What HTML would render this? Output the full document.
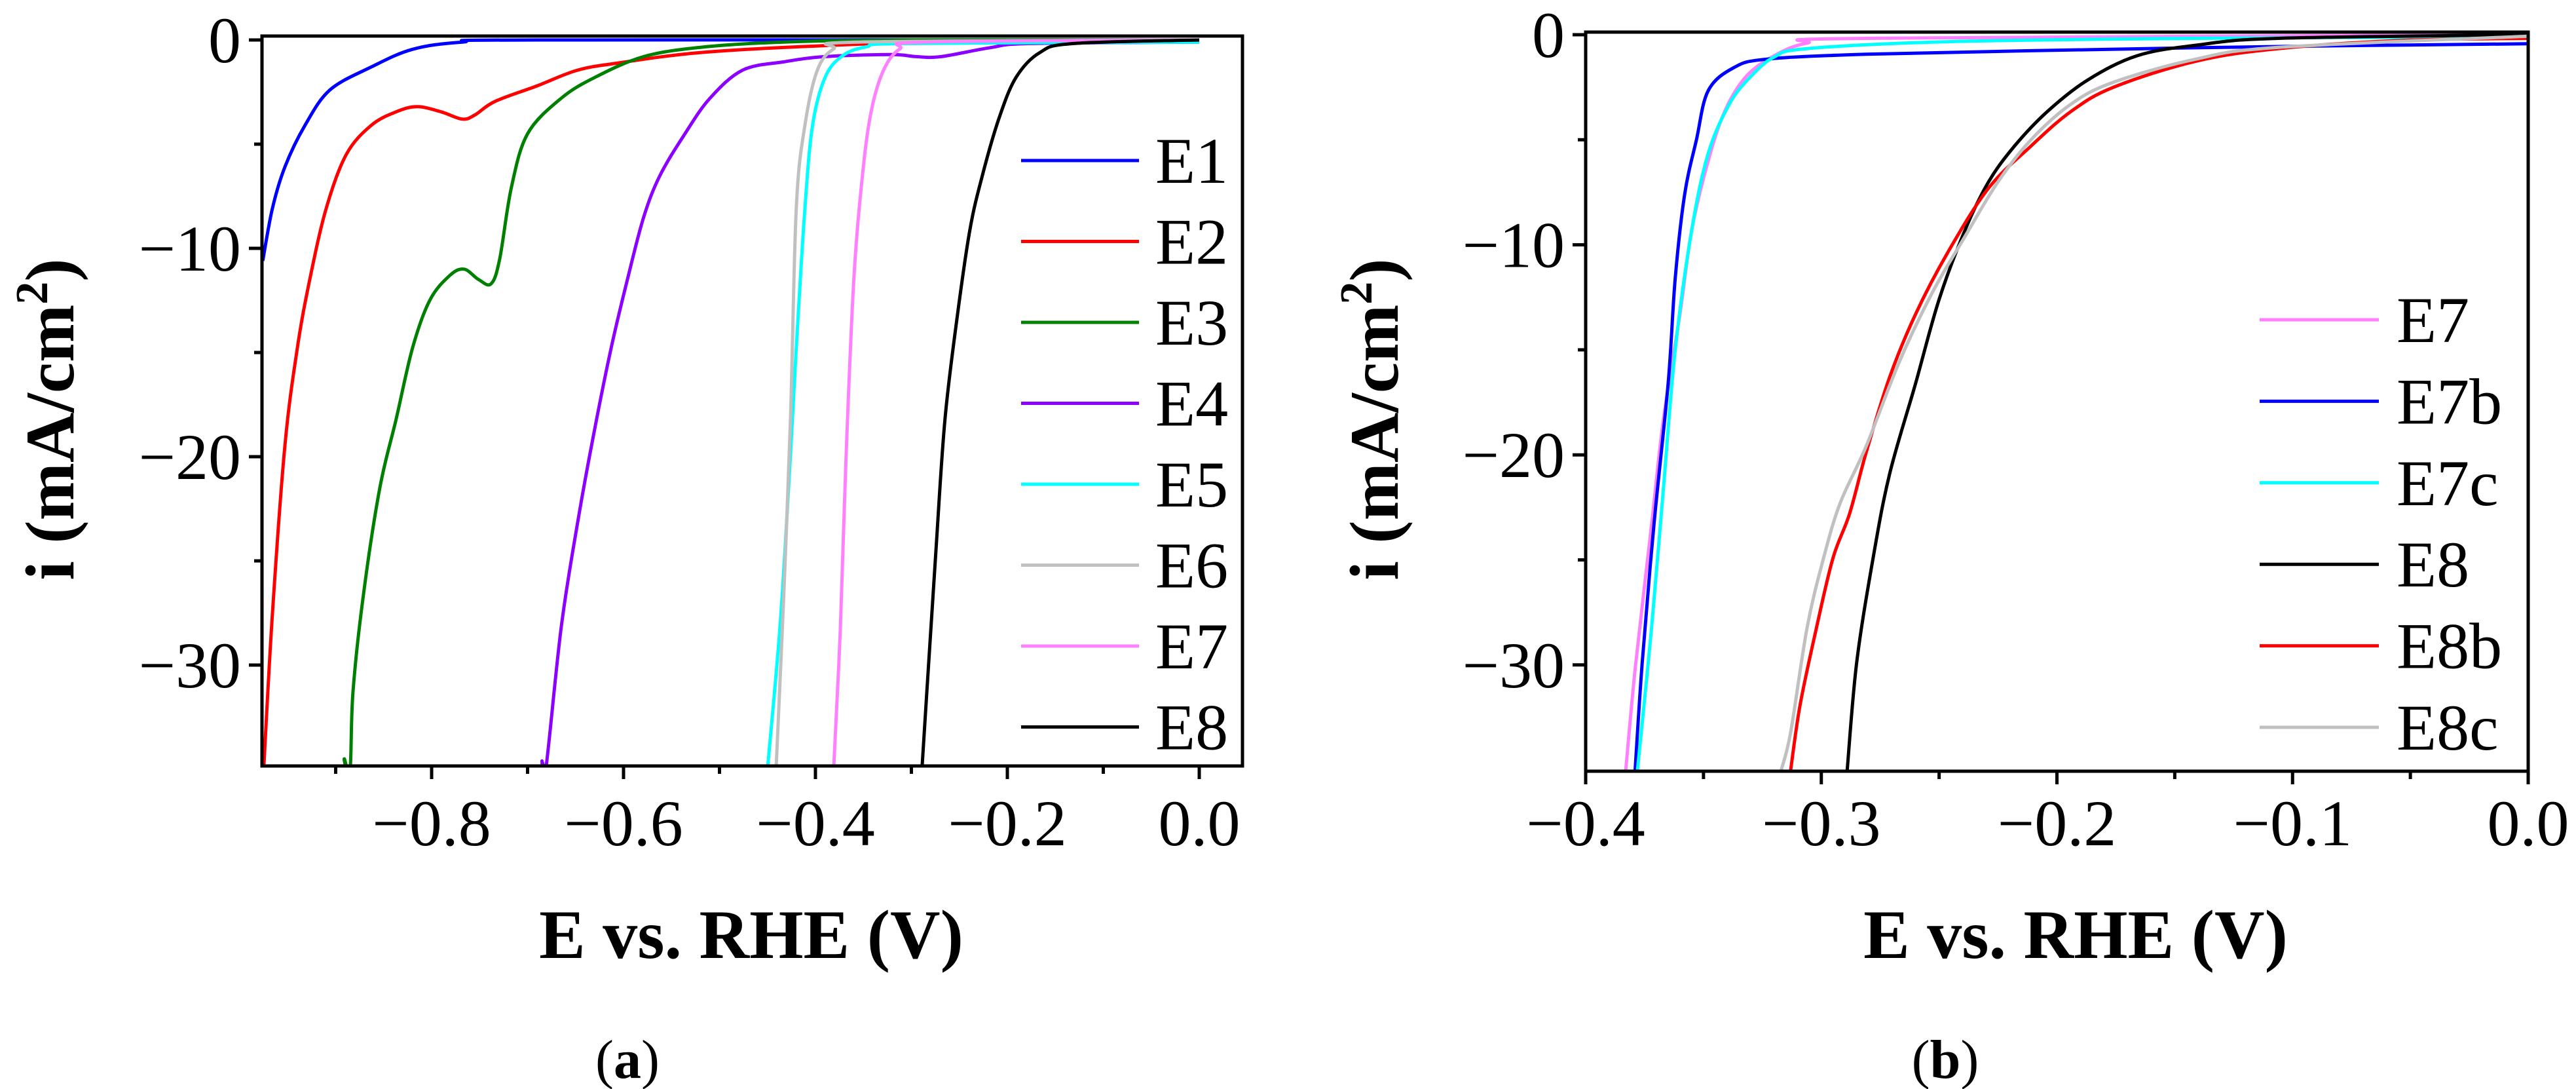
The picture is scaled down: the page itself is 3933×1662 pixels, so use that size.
<!DOCTYPE html>
<html><head><meta charset="utf-8"><style>
html,body{margin:0;padding:0;background:#fff;}
svg{display:block;font-family:"Liberation Serif",serif;}
svg text{font-family:"Liberation Serif",serif;}
</style></head><body>
<svg id="chart" width="3933" height="1662" viewBox="0 0 3933 1662" font-family="Liberation Serif, serif"></svg>
<script>
// ---- data: panel (a) ----
const seriesA = ["E1","E2","E3","E4","E5","E6","E7","E8"];
const colorsA = ["#0000ff","#ff0000","#008000","#8b00ff","#00ffff","#c0c0c0","#ff80ff","#000000"];
const E1x=[-0.976,-0.966,-0.953,-0.932,-0.906,-0.863,-0.82,-0.768,-0.69,0];
const E1y=[-10.6,-8.1,-6.1,-4.1,-2.4,-1.3,-0.45,-0.1,0,0];
const E2x=[-0.975,-0.966,-0.953,-0.94,-0.927,-0.91,-0.889,-0.863,-0.837,-0.815,-0.79,-0.768,-0.755,-0.734,-0.69,-0.648,-0.605,-0.519,-0.39,-0.26,0];
const E2y=[-35,-27.6,-19.5,-14.8,-11.5,-8.1,-5.5,-4.1,-3.45,-3.2,-3.45,-3.8,-3.6,-2.95,-2.2,-1.45,-1.1,-0.6,-0.27,-0.1,0];
const E3x=[-0.889,-0.891,-0.885,-0.882,-0.871,-0.854,-0.837,-0.82,-0.802,-0.781,-0.766,-0.751,-0.738,-0.729,-0.717,-0.7,-0.665,-0.63,-0.579,-0.519,-0.433,-0.3,0];
const E3y=[-35,-34.5,-35,-31.3,-26.6,-21.5,-18.2,-14.8,-12.5,-11.3,-11,-11.5,-11.7,-10.5,-7.1,-4.5,-2.8,-1.8,-0.8,-0.35,-0.1,0,0];
const E4x=[-0.682,-0.685,-0.681,-0.665,-0.648,-0.631,-0.613,-0.596,-0.579,-0.562,-0.536,-0.51,-0.476,-0.433,-0.39,-0.321,-0.295,-0.269,-0.218,-0.175,0];
const E4y=[-35,-34.6,-35,-28.2,-23.2,-18.9,-14.8,-11.5,-8.5,-6.5,-4.5,-2.8,-1.45,-1.05,-0.8,-0.7,-0.8,-0.8,-0.37,-0.17,-0.1];
const E5x=[-0.45,-0.437,-0.428,-0.42,-0.411,-0.403,-0.39,-0.372,-0.347,-0.304,0];
const E5y=[-35,-28.2,-21.5,-14.8,-8.1,-4.1,-1.8,-0.77,-0.33,-0.17,-0.1];
const E6x=[-0.441,-0.433,-0.426,-0.42,-0.411,-0.398,-0.381,-0.355,0];
const E6y=[-35,-26.6,-18.2,-8.1,-4.1,-1.45,-0.43,-0.1,0];
const E7x=[-0.381,-0.374,-0.368,-0.36,-0.351,-0.342,-0.329,-0.312,-0.286,0];
const E7y=[-35,-28.2,-19.9,-11.5,-6.5,-3.45,-1.45,-0.43,-0.1,0];
const E8x=[-0.289,-0.282,-0.274,-0.265,-0.252,-0.239,-0.226,-0.209,-0.191,-0.166,-0.131,0];
const E8y=[-35,-29.9,-24.2,-18.2,-13.2,-9.1,-6.5,-3.8,-1.8,-0.6,-0.17,0];
const dataA=[[E1x,E1y],[E2x,E2y],[E3x,E3y],[E4x,E4y],[E5x,E5y],[E6x,E6y],[E7x,E7y],[E8x,E8y]];
const xTicksA=[-0.8,-0.6,-0.4,-0.2,0.0];
const xTickLabelsA=["\u22120.8","\u22120.6","\u22120.4","\u22120.2","0.0"];
const xMinorA=[-0.9,-0.7,-0.5,-0.3,-0.1];
const yTicks=[0,-10,-20,-30];
const yTickLabels=["0","\u221210","\u221220","\u221230"];
const yMinor=[-5,-15,-25];
// ---- data: panel (b) ----
const seriesB=["E7","E7b","E7c","E8","E8b","E8c"];
const colorsB=["#ff80ff","#0000ff","#00ffff","#000000","#ff0000","#c0c0c0"];
const B7x=[-0.383,-0.379,-0.372,-0.367,-0.36,-0.355,-0.348,-0.341,-0.332,-0.32,-0.306,-0.281,0];
const B7y=[-35,-30.2,-23.3,-18.3,-13.3,-9.3,-6,-3.65,-2,-1,-0.4,-0.17,0];
const B7bx=[-0.379,-0.376,-0.371,-0.365,-0.362,-0.358,-0.353,-0.348,-0.337,-0.323,-0.281,-0.211,-0.106,0];
const B7by=[-35,-29.9,-23.3,-16.6,-11.6,-7.6,-5,-2.66,-1.56,-1.16,-0.93,-0.76,-0.56,-0.43];
const B7cx=[-0.378,-0.372,-0.367,-0.362,-0.355,-0.348,-0.339,-0.33,-0.32,-0.306,-0.246,-0.141,0];
const B7cy=[-35,-28.2,-21.6,-15,-9.3,-5.65,-3.3,-2,-1.06,-0.66,-0.33,-0.17,-0.1];
const B8x=[-0.289,-0.285,-0.278,-0.271,-0.26,-0.25,-0.239,-0.229,-0.218,-0.204,-0.187,-0.166,-0.141,-0.106,0];
const B8y=[-35,-29.9,-24.9,-20.9,-16.6,-12.6,-9.3,-7,-5.3,-3.65,-2.16,-1,-0.5,-0.17,0];
const B8bx=[-0.313,-0.309,-0.302,-0.295,-0.288,-0.281,-0.271,-0.26,-0.246,-0.229,-0.211,-0.194,-0.176,-0.141,-0.106,-0.054,0];
const B8by=[-35,-31.9,-28.2,-24.9,-22.8,-19.9,-16.3,-13.3,-10.3,-7.3,-5.3,-3.65,-2.5,-1.26,-0.66,-0.27,-0.17];
const B8cx=[-0.317,-0.313,-0.306,-0.299,-0.292,-0.281,-0.267,-0.253,-0.239,-0.225,-0.211,-0.194,-0.176,-0.141,-0.106,0];
const B8cy=[-35,-33.2,-28.2,-24.9,-22.3,-19.6,-15.6,-12.3,-9.6,-7,-5,-3.3,-2.26,-1.16,-0.6,-0.07];
const dataB=[[B7x,B7y],[B7bx,B7by],[B7cx,B7cy],[B8x,B8y],[B8bx,B8by],[B8cx,B8cy]];
const xTicksB=[-0.4,-0.3,-0.2,-0.1,0.0];
const xTickLabelsB=["\u22120.4","\u22120.3","\u22120.2","\u22120.1","0.0"];
const xMinorB=[-0.35,-0.25,-0.15,-0.05];

const NS="http://www.w3.org/2000/svg";
const FF="Liberation Serif, serif";
const svg=document.getElementById('chart');
function mk(tag,attrs,parent){const e=document.createElementNS(NS,tag);for(const k in attrs)e.setAttribute(k,attrs[k]);if(tag==='text')e.setAttribute('font-family',FF);(parent||svg).appendChild(e);return e;}
function smoothPath(p){
  let d='M'+p[0][0].toFixed(1)+','+p[0][1].toFixed(1);
  for(let i=0;i<p.length-1;i++){
    const p0=p[i-1]||p[i],p1=p[i],p2=p[i+1],p3=p[i+2]||p2;
    const c1=[p1[0]+(p2[0]-p0[0])/6,p1[1]+(p2[1]-p0[1])/6];
    const c2=[p2[0]-(p3[0]-p1[0])/6,p2[1]-(p3[1]-p1[1])/6];
    d+='C'+c1[0].toFixed(1)+','+c1[1].toFixed(1)+' '+c2[0].toFixed(1)+','+c2[1].toFixed(1)+' '+p2[0].toFixed(1)+','+p2[1].toFixed(1);
  }
  return d;
}

function panel(cfg){
  const g=mk('g',{});
  
  
  const X=v=>cfg.x0px+(v-cfg.x0v)*cfg.xs;
  const Y=v=>cfg.y0px-v*cfg.ys;
  const clipId='clip-'+cfg.name;
  const cp=mk('clipPath',{id:clipId},g);
  mk('rect',{x:cfg.L,y:cfg.T,width:cfg.R-cfg.L,height:cfg.B-cfg.T},cp);
  const lg=mk('g',{'clip-path':'url(#'+clipId+')'},g);
  cfg.data.forEach((d,i)=>{
    const pts=d[0].map((xv,j)=>[X(xv),Y(d[1][j])]);
    const pl=mk('path',{d:smoothPath(pts),fill:'none',stroke:cfg.colors[i],'stroke-width':5,'stroke-linejoin':'round'},lg);
    
    
  });
  const fr=mk('rect',{x:cfg.L,y:cfg.T,width:cfg.R-cfg.L,height:cfg.B-cfg.T,fill:'none',stroke:'#000','stroke-width':5},g);
  
  
  cfg.xTicks.forEach((v,i)=>{
    mk('line',{x1:X(v),x2:X(v),y1:cfg.B,y2:cfg.B+20,stroke:'#000','stroke-width':5},g);
    const t=mk('text',{x:X(v),y:1290,'font-size':100,'text-anchor':'middle'},g);
    t.textContent=cfg.xLabels[i];
    
    
  });
  cfg.xMinor.forEach(v=>mk('line',{x1:X(v),x2:X(v),y1:cfg.B,y2:cfg.B+12,stroke:'#000','stroke-width':5},g));
  yTicks.forEach((v,i)=>{
    mk('line',{x1:cfg.L-20,x2:cfg.L,y1:Y(v),y2:Y(v),stroke:'#000','stroke-width':5},g);
    const t=mk('text',{x:cfg.L-32,y:Y(v)+34,'font-size':100,'text-anchor':'end'},g);
    t.textContent=yTickLabels[i];
    
    
  });
  yMinor.forEach(v=>mk('line',{x1:cfg.L-12,x2:cfg.L,y1:Y(v),y2:Y(v),stroke:'#000','stroke-width':5},g));
  const xt=mk('text',{x:cfg.xtX,y:1462,'font-size':106,'font-weight':'bold','text-anchor':'middle'},g);
  xt.textContent='E vs. RHE (V)';
  
  
  const yt=mk('text',{x:0,y:0,'font-size':106,'font-weight':'bold','text-anchor':'middle',transform:'translate('+(cfg.ytX+36)+',640) rotate(-90)'},g);
  yt.innerHTML='i (mA/cm<tspan dy="-40" font-size="70">2</tspan><tspan dy="40">)</tspan>';
  
  
  const cap=mk('text',{x:cfg.capX,y:1645,'font-size':84,'text-anchor':'middle'},g);
  cap.innerHTML='(<tspan font-weight="bold">'+cfg.cap+'</tspan>)';
  
  
  const leg=mk('g',{},g);
  
  
  cfg.series.forEach((s,i)=>{
    const y=cfg.legY0+i*cfg.legDy;
    const e=mk('g',{},leg);
    
    
    mk('line',{x1:cfg.legX1,x2:cfg.legX2,y1:y,y2:y,stroke:cfg.colors[i],'stroke-width':5},e);
    const t=mk('text',{x:cfg.legTx,y:y+34,'font-size':100},e);
    t.textContent=s;
  });
}

panel({name:'panel-a',series:seriesA,colors:colorsA,data:dataA,
  L:400,R:1897,T:55,B:1169,x0v:-0.8,x0px:659,xs:1465,y0px:61,ys:31.8,
  xTicks:xTicksA,xLabels:xTickLabelsA,xMinor:xMinorA,
  xtX:1147,ytX:76,capX:958,cap:'a',
  legX1:1559,legX2:1739,legTx:1764,legY0:245,legDy:123.5});
panel({name:'panel-b',series:seriesB,colors:colorsB,data:dataB,
  L:2421,R:3860,T:49,B:1177,x0v:-0.4,x0px:2421,xs:3597.5,y0px:53,ys:32.06,
  xTicks:xTicksB,xLabels:xTickLabelsB,xMinor:xMinorB,
  xtX:3169,ytX:2098,capX:2970,cap:'b',
  legX1:3450,legX2:3632,legTx:3659,legY0:488,legDy:124.4});
</script>
</body></html>
